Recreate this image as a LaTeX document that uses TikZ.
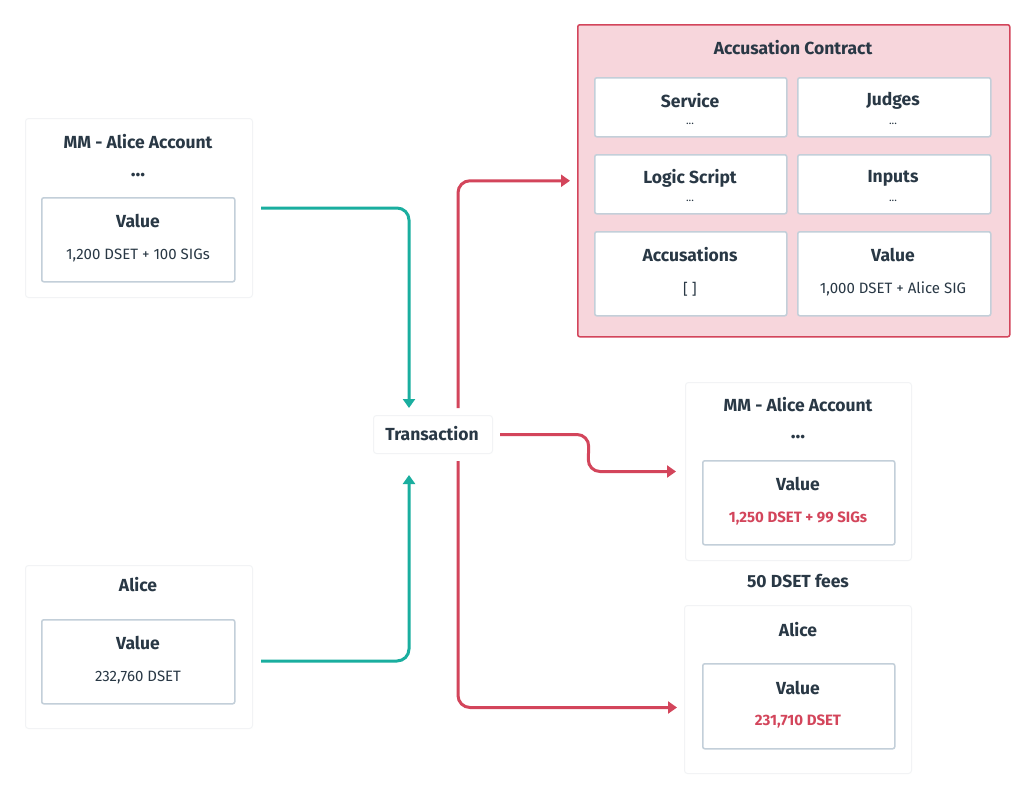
\documentclass[tikz,border=0pt]{standalone}
\usepackage{fontspec}
\setmainfont{Fira Sans}
\usetikzlibrary{arrows.meta,calc}
\definecolor{ink}{HTML}{293845}
\definecolor{tealc}{HTML}{1AAE9F}
\definecolor{redc}{HTML}{D3455B}
\definecolor{pinkc}{HTML}{F7D6DC}
\definecolor{boxc}{HTML}{C3CFD9}
\definecolor{shadec}{HTML}{F2F3F5}
\tikzset{
  card/.style={fill=white, draw=shadec, line width=1pt, rounded corners=3pt},
  inbox/.style={fill=white, draw=boxc, line width=1.5pt, rounded corners=2pt},
  ttl/.style={font=\fontsize{17.5}{20}\selectfont\bfseries, text=ink, inner sep=0pt},
  sub/.style={font=\fontsize{15}{18}\selectfont, text=ink, inner sep=0pt},
  subred/.style={font=\fontsize{15}{18}\selectfont\bfseries, text=redc, inner sep=0pt},
  tdots/.style={font=\fontsize{11}{13}\selectfont, text=ink, inner sep=0pt},
  bdots/.style={font=\fontsize{20}{22}\selectfont\bfseries, text=ink, inner sep=0pt},
  flow/.style={line width=3pt, rounded corners=12pt, -{Triangle[length=9pt,width=12pt]}},
}
\begin{document}
\begin{tikzpicture}[x=1pt,y=-1pt]
\useasboundingbox[fill=white] (0,0) rectangle (1033,798);

% ---- left MM - Alice Account
\node[card, anchor=north west, minimum width=227pt, minimum height=179pt] (mmL) at (25,118) {};
\node[ttl] (mmLt) at (138,142) {MM - Alice Account};
\node[bdots] (mmLd) at (138,175) {...};
\node[inbox, anchor=north west, minimum width=193pt, minimum height=84pt] (mmLv) at (41,197) {};
\node[ttl] (mmLvt) at (138,221) {Value};
\node[sub] (mmLvs) at (138,255) {1,200 DSET + 100 SIGs};

% ---- left Alice
\node[card, anchor=north west, minimum width=227pt, minimum height=163pt] (alL) at (25,565) {};
\node[ttl] (alLt) at (138,585) {Alice};
\node[inbox, anchor=north west, minimum width=193pt, minimum height=84pt] (alLv) at (41,619) {};
\node[ttl] (alLvt) at (138,643) {Value};
\node[sub] (alLvs) at (138,677) {232,760 DSET};

% ---- Transaction
\node[card, anchor=north west, minimum width=119pt, minimum height=38pt] (tx) at (373,415) {};
\node[ttl] (txt) at (432,434) {Transaction};

% ---- Accusation Contract
\node[fill=pinkc, draw=redc, line width=1.5pt, rounded corners=2pt, anchor=north west,
      minimum width=432pt, minimum height=312pt] (ac) at (577,24) {};
\node[ttl] (act) at (793,48) {Accusation Contract};
\node[inbox, anchor=north west, minimum width=192pt, minimum height=59pt] (svc) at (594,77) {};
\node[inbox, anchor=north west, minimum width=193pt, minimum height=59pt] (jdg) at (797,77) {};
\node[inbox, anchor=north west, minimum width=192pt, minimum height=59pt] (lgs) at (594,154) {};
\node[inbox, anchor=north west, minimum width=193pt, minimum height=59pt] (inp) at (797,154) {};
\node[inbox, anchor=north west, minimum width=192pt, minimum height=84pt] (acc) at (594,231) {};
\node[inbox, anchor=north west, minimum width=193pt, minimum height=84pt] (acv) at (797,231) {};
\node[ttl] (svct) at (690,101) {Service};
\node[tdots] (svcd) at (690,124) {...};
\node[ttl] (jdgt) at (893,101) {Judges};
\node[tdots] (jdgd) at (893,124) {...};
\node[ttl] (lgst) at (690,178) {Logic Script};
\node[tdots] (lgsd) at (690,201) {...};
\node[ttl] (inpt) at (893,178) {Inputs};
\node[tdots] (inpd) at (893,201) {...};
\node[ttl] (acct) at (690,255) {Accusations};
\node[sub] (accs) at (690,289) {[ ]};
\node[ttl] (acvt) at (893,255) {Value};
\node[sub] (acvs) at (893,289) {1,000 DSET + Alice SIG};

% ---- right MM - Alice Account
\node[card, anchor=north west, minimum width=226pt, minimum height=178pt] (mmR) at (685,382) {};
\node[ttl] (mmRt) at (798,405) {MM - Alice Account};
\node[bdots] (mmRd) at (798,437) {...};
\node[inbox, anchor=north west, minimum width=192pt, minimum height=84pt] (mmRv) at (702,460) {};
\node[ttl] (mmRvt) at (798,484) {Value};
\node[subred] (mmRvs) at (798,518) {1,250 DSET + 99 SIGs};

% ---- fees
\node[ttl] (fees) at (798,581) {50 DSET fees};

% ---- right Alice
\node[card, anchor=north west, minimum width=227pt, minimum height=168pt] (alR) at (684,605) {};
\node[ttl] (alRt) at (798,630) {Alice};
\node[inbox, anchor=north west, minimum width=192pt, minimum height=85pt] (alRv) at (702,663) {};
\node[ttl] (alRvt) at (798,688) {Value};
\node[subred] (alRvs) at (798,721) {231,710 DSET};

% ---- connectors
\draw[flow, tealc, shorten >=7pt] ($(mmL.east)+(8,0)$) -| ([xshift=-24pt]tx.north);
\draw[flow, tealc, shorten >=21pt] ($(alL.east)+(8,14)$) -| ([xshift=-24pt]tx.south);
\draw[flow, redc, shorten <=7pt, shorten >=7pt] ([xshift=25pt]tx.north) |- (ac.west);
\draw[flow, redc] ($(tx.east)+(7,0)$) -- ($(tx.east)+(96,0)$) -- ($(mmR.west)+(-97,0)$) -- ($(mmR.west)+(-9,0)$);
\draw[flow, redc, shorten <=7pt] ([xshift=25pt]tx.south) |- ($(alR.west)+(-7,18)$);
\end{tikzpicture}
\end{document}
